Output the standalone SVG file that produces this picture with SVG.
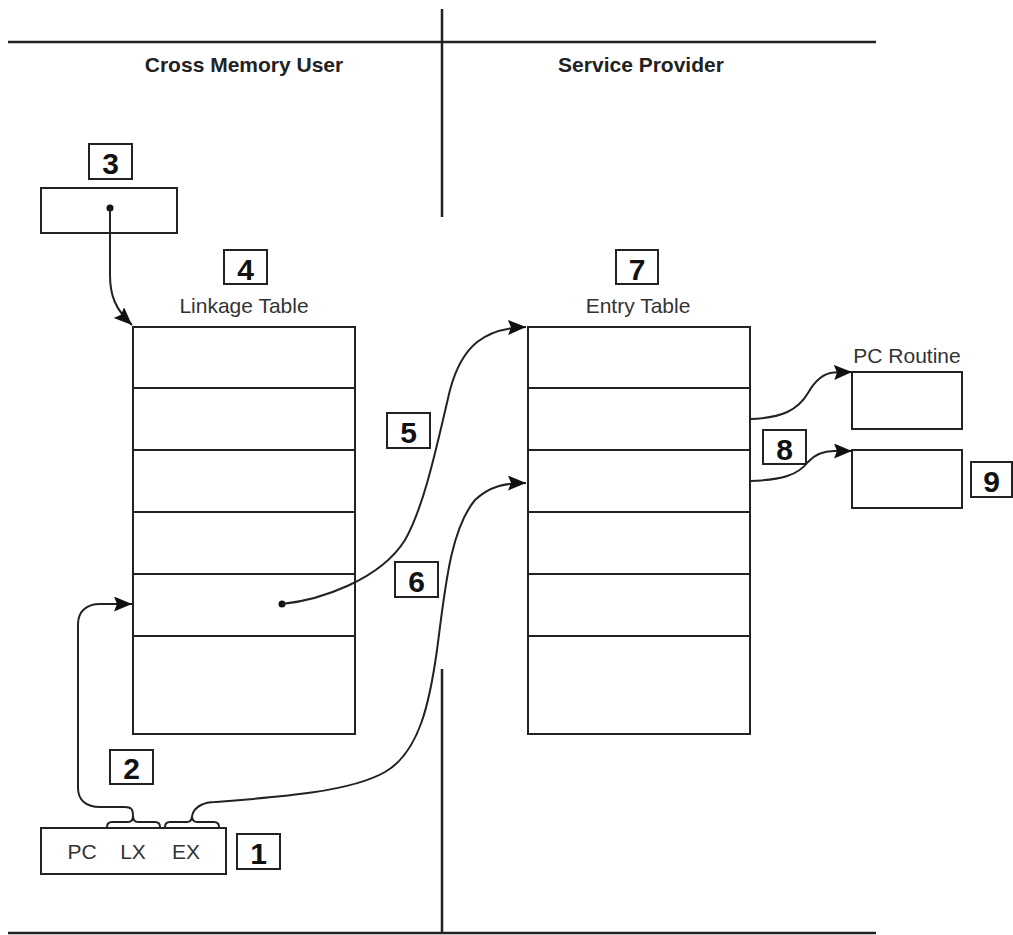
<svg xmlns="http://www.w3.org/2000/svg" width="1013" height="935" viewBox="0 0 1013 935">
<style>
.ln{stroke:#222;stroke-width:2.5;fill:none}
.box{stroke:#222;stroke-width:2;fill:#fff}
.lbl{stroke:#222;stroke-width:2;fill:none}
.num{font-family:"Liberation Sans",Arial,sans-serif;font-weight:bold;font-size:30px;fill:#111;text-anchor:middle}
.head{font-family:"Liberation Sans",Arial,sans-serif;font-weight:bold;font-size:21px;fill:#222;text-anchor:middle}
.txt{font-family:"Liberation Sans",Arial,sans-serif;font-size:21px;fill:#333;text-anchor:middle}
.con{stroke:#222;stroke-width:2;fill:none}
</style>
<defs>
<marker id="ah" markerUnits="userSpaceOnUse" markerWidth="20" markerHeight="16" refX="18" refY="7.5" orient="auto">
<path d="M0,0 L18,7.5 L0,15 L3,7.5 z" fill="#111"/>
</marker>
</defs>
<g id="frame">
<line class="ln" x1="8" y1="42" x2="876" y2="42"/>
<line class="ln" x1="442" y1="9" x2="442" y2="217"/>
<line class="ln" x1="442" y1="669" x2="442" y2="933"/>
<line class="ln" x1="8" y1="933" x2="876" y2="933"/>
<text class="head" x="244" y="72">Cross Memory User</text>
<text class="head" x="641" y="72">Service Provider</text>
</g>
<g id="n3">
<rect class="lbl" x="89" y="144" width="43" height="35"/>
<text class="num" x="110.5" y="174">3</text>
<rect class="box" x="41" y="188" width="136" height="45"/>
<circle cx="110" cy="208" r="3.5" fill="#111"/>
</g>
<g id="linkage">
<rect class="lbl" x="224" y="250" width="43" height="34"/>
<text class="num" x="245.5" y="280">4</text>
<text class="txt" x="244" y="313">Linkage Table</text>
<rect class="box" x="133" y="327" width="222" height="407"/>
<path class="con" d="M133,388 H355 M133,450 H355 M133,512 H355 M133,574 H355 M133,636 H355"/>
<circle cx="282" cy="604" r="3.5" fill="#111"/>
</g>
<g id="entry">
<rect class="lbl" x="616" y="250" width="42" height="34"/>
<text class="num" x="637" y="280">7</text>
<text class="txt" x="638" y="313">Entry Table</text>
<rect class="box" x="528" y="327" width="222" height="407"/>
<path class="con" d="M528,388 H750 M528,450 H750 M528,512 H750 M528,574 H750 M528,636 H750"/>
</g>
<g id="pcroutine">
<text class="txt" x="907" y="363">PC Routine</text>
<rect class="box" x="852" y="372" width="110" height="57"/>
</g>
<g id="n9">
<rect class="box" x="852" y="450" width="110" height="58"/>
<rect class="lbl" x="971" y="462" width="41" height="35"/>
<text class="num" x="991.5" y="492">9</text>
</g>
<g id="n1">
<rect class="box" x="41" y="828" width="185" height="46"/>
<text class="txt" x="82" y="859">PC</text>
<text class="txt" x="133" y="859">LX</text>
<text class="txt" x="186" y="859">EX</text>
<path class="con" d="M107,827 Q107,822 112,822 L128,822 Q133,822 133,816 Q133,822 138,822 L155,822 Q160,822 160,827"/>
<path class="con" d="M165,827 Q165,822 170,822 L187,822 Q192,822 192,816 Q192,822 197,822 L214,822 Q219,822 219,827"/>
<rect class="lbl" x="237" y="834" width="43" height="35"/>
<text class="num" x="258.5" y="864">1</text>
</g>
<g id="n2">
<rect class="lbl" x="110" y="750" width="43" height="34"/>
<text class="num" x="131.5" y="779">2</text>
</g>
<g id="n5">
<rect class="lbl" x="387" y="413" width="43" height="35"/>
<text class="num" x="408.5" y="443">5</text>
</g>
<g id="n6">
<rect class="lbl" x="395" y="562" width="43" height="35"/>
<text class="num" x="416.5" y="592">6</text>
</g>
<g id="n8">
<rect class="lbl" x="763" y="430" width="43" height="34"/>
<text class="num" x="784.5" y="460">8</text>
</g>
<g id="connectors">
<path class="con" marker-end="url(#ah)" d="M110,208 L110,275 C110,295 115,309 132,325"/>
<path class="con" marker-end="url(#ah)" d="M133,816 C133,809 131,807 125,807 L100,807 C86,807 78,800 78,788 L78,624 C78,612 86,604 100,604 L132,604"/>
<path class="con" marker-end="url(#ah)" d="M282,604 C320,600 380,580 405,540 C425,505 438,440 450,390 C462,345 485,328 526,327"/>
<path class="con" marker-end="url(#ah)" d="M192,816 C194,806 205,802 215,802 C280,797 350,792 385,772 C420,752 430,700 437,650 C445,590 450,530 475,500 C490,486 505,483 526,483"/>
<path class="con" marker-end="url(#ah)" d="M750,419 C782,418 798,410 808,393 C816,379 825,373 834,372.5 L852,372"/>
<path class="con" marker-end="url(#ah)" d="M750,481 C782,480 798,475 808,462 C816,453 825,451 834,451 L852,451"/>
</g>
</svg>
